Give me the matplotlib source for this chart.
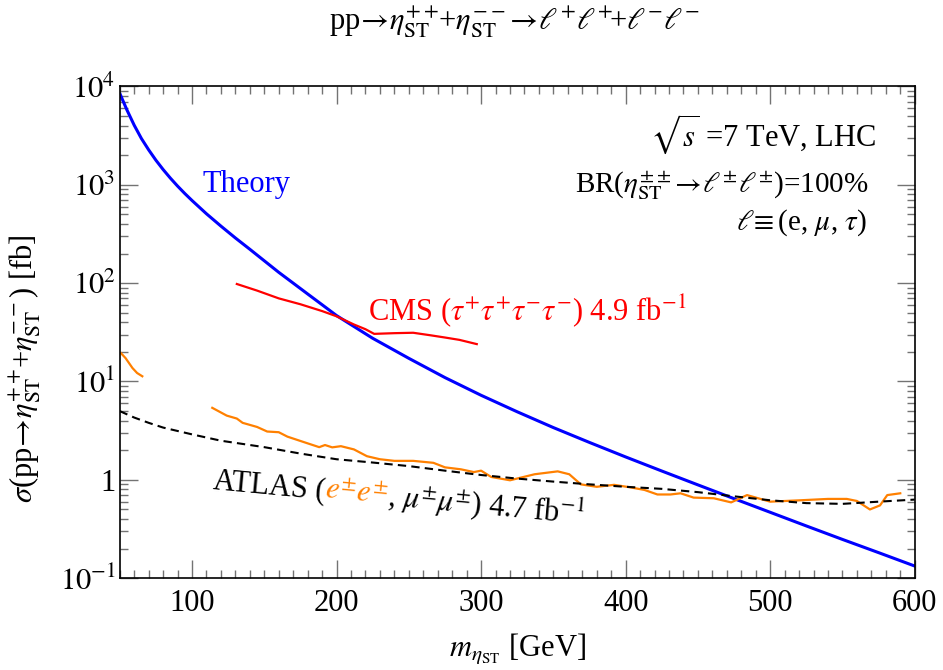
import numpy as np
import matplotlib
matplotlib.use("Agg")
import matplotlib.pyplot as plt
import matplotlib.transforms as mtransforms
from matplotlib.ticker import LogLocator, FixedLocator, FixedFormatter, MultipleLocator

plt.rcParams['font.family'] = 'serif'
plt.rcParams['font.serif'] = ['Liberation Serif', 'DejaVu Serif']
plt.rcParams['mathtext.fontset'] = 'stix'

# theory cross section (blue)
m_theory = [50, 55, 60, 65, 70, 75, 80, 85, 90, 95, 100, 110, 120, 130, 140, 150,
            160, 170, 180, 190, 200, 225, 250, 275, 300, 325, 350, 375, 400, 425,
            450, 475, 500, 525, 550, 575, 600]
sigma_theory = [8500, 5750, 4030, 2950, 2265, 1778, 1429, 1169, 970, 815, 692, 507,
                380, 288, 221, 168.7, 128.8, 100, 77.6, 60.3, 46.8, 27.5, 17.2,
                10.96, 7.24, 4.92, 3.40, 2.40, 1.71, 1.23, 0.889, 0.644, 0.468,
                0.340, 0.248, 0.182, 0.133]

# CMS 4 tau limit (red)
m_cms = [131, 145, 160, 175, 190, 200, 212, 220, 226, 240, 253, 265, 275, 285, 297]
sigma_cms = [98, 84, 70, 61, 52, 46, 38, 34, 30.5, 31, 31.3, 29.5, 28, 26.5, 24]

# ATLAS mu mu limit (black dashed)
m_atlas_mm = [50, 60, 70, 80, 100, 120, 150, 175, 200, 225, 250, 275, 300, 325,
              350, 375, 400, 425, 450, 475, 500, 525, 550, 575, 600]
sigma_atlas_mm = [5.0, 4.3, 3.8, 3.4, 2.9, 2.5, 2.15, 1.85, 1.62, 1.5, 1.38, 1.24,
                  1.12, 1.03, 0.96, 0.9, 0.85, 0.81, 0.75, 0.68, 0.62, 0.58, 0.57,
                  0.6, 0.63]

# ATLAS e e limit (orange), two pieces
m_atlas_ee_low = [50.7, 54, 58.8, 62, 65.6]
sigma_atlas_ee_low = [19.5, 17.3, 13.7, 12.2, 11.3]
m_atlas_ee = [114, 124, 131, 135, 145, 152, 160, 166, 180, 188, 192, 197, 203, 212,
              221, 230, 240, 253, 267, 275, 286, 295, 300, 307, 320, 337, 353, 361,
              369, 380, 392, 403, 413, 422, 431, 438, 447, 461, 473, 484, 500, 521,
              540, 553, 560, 569, 576, 581, 590]
sigma_atlas_ee = [5.4, 4.5, 4.2, 3.8, 3.45, 3.1, 3.05, 2.75, 2.35, 2.15, 2.26, 2.14,
                  2.2, 2.04, 1.74, 1.62, 1.56, 1.56, 1.49, 1.34, 1.28, 1.2, 1.24,
                  1.07, 0.99, 1.14, 1.22, 1.14, 0.9, 0.85, 0.89, 0.84, 0.79, 0.71,
                  0.71, 0.73, 0.66, 0.65, 0.59, 0.7, 0.6, 0.62, 0.64, 0.64, 0.61,
                  0.5, 0.55, 0.7, 0.73]

y_ticks = [0.1, 1, 10, 100, 1000, 10000]
y_tick_labels = ['$10^{-1}$', '1', '$10^{1}$', '$10^{2}$', '$10^{3}$', '$10^{4}$']

fig = plt.figure(figsize=(9.43, 6.7), dpi=100)
ax = fig.add_axes([0.127, 0.137, 0.843, 0.734])

ax.plot(m_theory, sigma_theory, color='#0000ff', lw=2.2)
ax.plot(m_cms, sigma_cms, color='#ff0000', lw=1.6)
ax.plot(m_atlas_ee_low, sigma_atlas_ee_low, color='#ff8000', lw=1.6)
ax.plot(m_atlas_ee, sigma_atlas_ee, color='#ff8000', lw=1.6)
ax.plot(m_atlas_mm, sigma_atlas_mm, color='black', lw=1.5, ls=(0, (4, 2.5)))

ax.set_yscale('log')
ax.set_xlim(50, 600)
ax.set_ylim(0.1, 10000)

ax.xaxis.set_major_locator(MultipleLocator(100))
ax.xaxis.set_minor_locator(MultipleLocator(10))
ax.yaxis.set_major_locator(FixedLocator(y_ticks))
ax.yaxis.set_major_formatter(FixedFormatter(y_tick_labels))
ax.yaxis.set_minor_locator(LogLocator(base=10, subs=np.arange(2, 10)))
ax.yaxis.set_minor_formatter(FixedFormatter([]))

ax.tick_params(which='both', direction='in', top=True, right=True,
               color='0.45', labelsize=22)
ax.tick_params(which='major', length=13, width=1)
ax.tick_params(which='minor', length=6, width=1)
ax.tick_params(axis='x', pad=8)
ax.tick_params(axis='y', pad=3)
for s in ax.spines.values():
    s.set_linewidth(1.2)

ax.set_xlabel(r'$m_{\eta_{\rm ST}}$ [GeV]', fontsize=22)
ax.xaxis.set_label_coords(0.5, -0.11)
ax.set_ylabel(r'$\sigma$(pp$\!\rightarrow\!\eta_{\rm ST}^{++}\!$+$\eta_{\rm ST}^{--}$) [fb]',
              fontsize=22)
ax.yaxis.set_label_coords(-0.096, 0.427)

fig.text(0.546, 0.967,
         r'pp$\!\rightarrow\!\eta_{\rm ST}^{++}\!$+$\eta_{\rm ST}^{--}\!\rightarrow\!\ell^{+}\ell^{+}\!$+$\ell^{-}\ell^{-}$',
         fontsize=22, ha='center', va='center')

# annotations
ax.text(107.4, 10**2.93, 'Theory', color='#0000ff', fontsize=22, va='baseline')
ax.text(222, 42, r'CMS ($\tau^{+}\tau^{+}\tau^{-}\tau^{-}$) 4.9 fb$^{-1}$',
        color='#ff0000', fontsize=22, va='baseline')

ax.text(0.951, 0.878, r'$\sqrt{s}$ =7 TeV, LHC', transform=ax.transAxes,
        fontsize=22, ha='right', va='baseline')
ax.text(0.942, 0.784,
        r'BR($\eta_{\rm ST}^{\pm\pm}\!\rightarrow\!\ell^{\pm}\ell^{\pm}$)=100%',
        transform=ax.transAxes, fontsize=21, ha='right', va='baseline')
ax.text(0.94, 0.708, r'$\ell\!\equiv$(e, $\mu$, $\tau$)', transform=ax.transAxes,
        fontsize=21, ha='right', va='baseline')

# ATLAS label, tilted, with the e e part in orange
pieces = [('ATLAS (', 'black'), (r'$e^{\pm}e^{\pm}$', '#ff8000'),
          (r', $\mu^{\pm}\mu^{\pm}$) 4.7 fb$^{-1}$', 'black')]
angle = -5.4
renderer = fig.canvas.get_renderer()
offset = 0.0
for txt, col in pieces:
    tr = mtransforms.offset_copy(ax.transData, fig=fig,
                                 x=offset * np.cos(np.radians(angle)),
                                 y=offset * np.sin(np.radians(angle)), units='dots')
    ax.text(114.3, 0.823, txt, color=col, fontsize=22, ha='left', va='baseline',
            rotation=angle, rotation_mode='anchor', transform=tr)
    probe = ax.text(0, 0, txt, fontsize=22, transform=None)
    offset += probe.get_window_extent(renderer).width
    probe.remove()

fig.savefig('out.png', dpi=100)
